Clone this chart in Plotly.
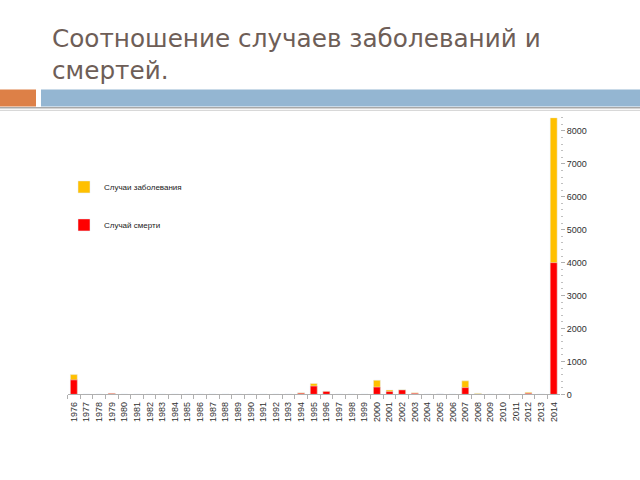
import plotly.graph_objects as go

years = [str(y) for y in range(1976, 2015)]

# случаи заболевания (всего) и смерти по годам
cases = [600, 0, 0, 34, 0, 0, 0, 0, 0, 0, 0, 0, 0, 0, 0, 0, 0, 0, 52, 330,
         95, 0, 0, 0, 430, 130, 140, 45, 0, 14, 0, 410, 32, 0, 0, 0, 60, 0, 8400]
deaths = [440, 0, 0, 22, 0, 0, 0, 0, 0, 0, 0, 0, 0, 0, 0, 0, 0, 0, 35, 250,
          90, 0, 0, 0, 220, 85, 135, 30, 0, 8, 0, 205, 14, 0, 0, 0, 30, 0, 4000]

y_ticks = list(range(0, 8001, 1000))

fig = go.Figure()
fig.add_trace(go.Bar(x=years, y=cases, name="Случаи заболевания",
                     marker_color="#FFC000", legendgroup="a"))
fig.add_trace(go.Bar(x=years, y=deaths, name="Случай смерти",
                     marker_color="#FF0000", legendgroup="b"))

fig.update_layout(
    width=640, height=480,
    margin=dict(l=0, r=0, t=0, b=0),
    paper_bgcolor="white", plot_bgcolor="white",
    barmode="overlay", bargap=0.45,
    font=dict(family="Liberation Sans, Arial", size=8, color="#404040"),
    legend=dict(x=0.1, y=0.637, xanchor="left", yanchor="top",
                tracegroupgap=19, font=dict(size=8, color="#202020"),
                bgcolor="rgba(0,0,0,0)"),
    xaxis=dict(domain=[0.1055, 0.875], type="category",
               tickangle=-90, showline=True, linecolor="#b0b0b0",
               ticks="outside", tickson="boundaries", ticklen=4,
               tickcolor="#b0b0b0", showgrid=False, ticklabelstandoff=3,
               tickfont=dict(size=9, color="#303030")),
    yaxis=dict(domain=[81.5/480, 361/480], range=[0, 8400], side="right",
               tickvals=y_ticks, showgrid=False, zeroline=False,
               showline=False, ticks="outside", ticklen=4,
               tickcolor="#b0b0b0",
               minor=dict(dtick=200, ticks="outside", ticklen=2,
                          tickcolor="#c0c0c0"),
               tickfont=dict(size=9, color="#303030")),
    shapes=[
        dict(type="rect", xref="paper", yref="paper",
             x0=0, x1=36/640, y0=1-107.5/480, y1=1-90.5/480,
             fillcolor="#DD8047", line_width=0),
        dict(type="rect", xref="paper", yref="paper",
             x0=41/640, x1=1, y0=1-107.5/480, y1=1-90.5/480,
             fillcolor="#94B6D2", line_width=0),
        dict(type="line", xref="paper", yref="paper",
             x0=0, x1=1, y0=1-109/480, y1=1-109/480,
             line=dict(color="#a8a8a8", width=1.5)),
        dict(type="line", xref="paper", yref="paper",
             x0=0, x1=1, y0=1-111.5/480, y1=1-111.5/480,
             line=dict(color="#d0d0d0", width=1)),
    ],
    annotations=[dict(
        text="Соотношение случаев заболеваний и<br>смертей.",
        xref="paper", yref="paper", x=50/640, y=1-22/480,
        xanchor="left", yanchor="top", align="left", showarrow=False,
        font=dict(family="DejaVu Sans", size=24.7, color="#6E5E57"))],
)

fig.write_html("out.html", config={"displayModeBar": False},
               post_script="document.body.style.margin='0px';")
